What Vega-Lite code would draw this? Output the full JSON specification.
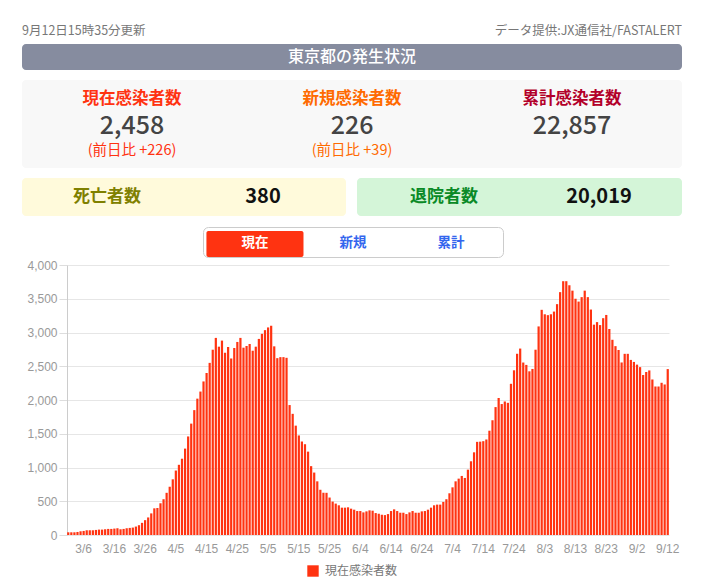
{
"$schema": "https://vega.github.io/schema/vega-lite/v6.json",
"background": "white",
"padding": {"top": 24, "left": 22, "right": 0, "bottom": 0},
"config": {"view": {"stroke": null}, "font": "Noto Sans CJK JP"},
"spacing": 10,
"resolve": {"scale": {"color": "independent"}, "legend": {"color": "independent"}},
"vconcat": [
{"spacing": 6, "vconcat": [
 {"width": 660, "height": 14,
  "data": {"values": [{"t": "9月12日15時35分更新", "side": "更新"}, {"t": "データ提供:JX通信社/FASTALERT", "side": "提供"}]},
  "encoding": {"x": {"field": "side", "type": "nominal", "sort": null, "scale": {"type": "point", "domain": ["更新", "提供"], "range": [0, 660], "padding": 0}, "axis": null}, "text": {"field": "t"}},
  "layer": [
   {"transform": [{"filter": "datum.side === '更新'"}], "mark": {"type": "text", "fontSize": 12.5, "color": "#777", "baseline": "middle", "align": "left"}},
   {"transform": [{"filter": "datum.side === '提供'"}], "mark": {"type": "text", "fontSize": 12.5, "color": "#777", "baseline": "middle", "align": "right"}}
  ]},
 {"width": 660, "height": 26,
  "view": {"fill": "#868c9f", "cornerRadius": 4, "stroke": null},
  "data": {"values": [{"t": "東京都の発生状況"}]},
  "mark": {"type": "text", "fontSize": 16, "fontWeight": 500, "color": "white", "baseline": "middle"},
  "encoding": {"text": {"field": "t"}}}
]},
{"width": 660, "height": 88,
 "view": {"fill": "#f8f8f8", "cornerRadius": 4, "stroke": null},
 "data": {"values": [
  {"k": "現在感染者数", "n": "2,458", "s": "(前日比 +226)"},
  {"k": "新規感染者数", "n": "226", "s": "(前日比 +39)"},
  {"k": "累計感染者数", "n": "22,857", "s": ""}]},
 "encoding": {
  "x": {"field": "k", "type": "nominal", "sort": null, "scale": {"type": "point", "padding": 0.5}, "axis": null},
  "color": {"field": "k", "type": "nominal", "sort": null, "scale": {"domain": ["現在感染者数", "新規感染者数", "累計感染者数"], "range": ["#ff3311", "#ff6a00", "#b3002a"]}, "legend": null}},
 "layer": [
  {"mark": {"type": "text", "fontSize": 16.5, "fontWeight": "bold", "baseline": "middle", "dy": -25.5}, "encoding": {"text": {"field": "k"}}},
  {"mark": {"type": "text", "fontSize": 25, "fontWeight": 500, "baseline": "middle", "dy": 2}, "encoding": {"text": {"field": "n"}, "color": {"value": "#444444"}}},
  {"mark": {"type": "text", "fontSize": 14.5, "baseline": "middle", "dy": 26.5}, "encoding": {"text": {"field": "s"}}}
 ]},
{"spacing": 11, "hconcat": [
 {"width": 324, "height": 38,
  "view": {"fill": "#fffadb", "cornerRadius": 4, "stroke": null},
  "data": {"values": [{"part": "項目", "t": "死亡者数"}, {"part": "人数", "t": "380"}]},
  "encoding": {"x": {"field": "part", "type": "nominal", "sort": null, "scale": {"type": "point", "domain": ["項目", "人数"], "range": [85, 241], "padding": 0}, "axis": null}, "text": {"field": "t"}},
  "layer": [
   {"transform": [{"filter": "datum.part === '項目'"}], "mark": {"type": "text", "fontSize": 17, "fontWeight": "bold", "color": "#7f8000", "baseline": "middle"}},
   {"transform": [{"filter": "datum.part === '人数'"}], "mark": {"type": "text", "fontSize": 20, "fontWeight": "bold", "color": "#111111", "baseline": "middle"}}
  ]},
 {"width": 325, "height": 38,
  "view": {"fill": "#d4f5d8", "cornerRadius": 4, "stroke": null},
  "data": {"values": [{"part": "項目", "t": "退院者数"}, {"part": "人数", "t": "20,019"}]},
  "encoding": {"x": {"field": "part", "type": "nominal", "sort": null, "scale": {"type": "point", "domain": ["項目", "人数"], "range": [87, 242], "padding": 0}, "axis": null}, "text": {"field": "t"}},
  "layer": [
   {"transform": [{"filter": "datum.part === '項目'"}], "mark": {"type": "text", "fontSize": 17, "fontWeight": "bold", "color": "#0a8a26", "baseline": "middle"}},
   {"transform": [{"filter": "datum.part === '人数'"}], "mark": {"type": "text", "fontSize": 20, "fontWeight": "bold", "color": "#111111", "baseline": "middle"}}
  ]}
]},
{"spacing": 1, "resolve": {"scale": {"color": "independent"}, "legend": {"color": "independent"}}, "vconcat": [
 {"spacing": 0, "hconcat": [
  {"width": 180, "height": 30, "data": {"values": []}, "mark": {"type": "text"}},
  {"width": 300, "height": 30,
   "view": {"fill": "white", "cornerRadius": 5, "stroke": "#cccccc", "strokeWidth": 1},
   "data": {"values": [{"t": "現在", "on": true}, {"t": "新規", "on": false}, {"t": "累計", "on": false}]},
   "encoding": {"x": {"field": "t", "type": "nominal", "sort": null, "scale": {"paddingInner": 0.01, "paddingOuter": 0.035}, "axis": null}},
   "layer": [
    {"transform": [{"filter": "datum.on"}], "mark": {"type": "bar", "color": "#ff3311", "cornerRadius": 2, "yOffset": 4, "y2Offset": -3}, "encoding": {}},
    {"mark": {"type": "text", "fontSize": 13.5, "fontWeight": "bold", "baseline": "middle", "dy": 0.5},
     "encoding": {"text": {"field": "t"}, "color": {"condition": {"test": "datum.on", "value": "white"}, "value": "#3366ee"}}}
   ]}
 ]},
 {"spacing": 0, "resolve": {"scale": {"color": "independent"}, "legend": {"color": "independent"}}, "hconcat": [
  {"width": 1, "height": 270, "data": {"values": []}, "mark": {"type": "text"}},
  {"width": 602, "height": 270,
  "data": {"values": [
{"d":"3/1","現在感染者数":40},{"d":"3/2","現在感染者数":40},{"d":"3/3","現在感染者数":40},{"d":"3/4","現在感染者数":45},{"d":"3/5","現在感染者数":55},{"d":"3/6","現在感染者数":60},{"d":"3/7","現在感染者数":70},{"d":"3/8","現在感染者数":70},{"d":"3/9","現在感染者数":70},{"d":"3/10","現在感染者数":75},{"d":"3/11","現在感染者数":80},{"d":"3/12","現在感染者数":80},{"d":"3/13","現在感染者数":85},{"d":"3/14","現在感染者数":90},{"d":"3/15","現在感染者数":90},{"d":"3/16","現在感染者数":95},{"d":"3/17","現在感染者数":100},{"d":"3/18","現在感染者数":85},{"d":"3/19","現在感染者数":90},{"d":"3/20","現在感染者数":100},{"d":"3/21","現在感染者数":105},{"d":"3/22","現在感染者数":110},{"d":"3/23","現在感染者数":125},{"d":"3/24","現在感染者数":145},{"d":"3/25","現在感染者数":180},{"d":"3/26","現在感染者数":220},{"d":"3/27","現在感染者数":260},{"d":"3/28","現在感染者数":320},{"d":"3/29","現在感染者数":395},{"d":"3/30","現在感染者数":400},{"d":"3/31","現在感染者数":470},
{"d":"4/1","現在感染者数":530},{"d":"4/2","現在感染者数":625},{"d":"4/3","現在感染者数":715},{"d":"4/4","現在感染者数":825},{"d":"4/5","現在感染者数":955},{"d":"4/6","現在感染者数":1040},{"d":"4/7","現在感染者数":1130},{"d":"4/8","現在感染者数":1280},{"d":"4/9","現在感染者数":1460},{"d":"4/10","現在感染者数":1650},{"d":"4/11","現在感染者数":1850},{"d":"4/12","現在感染者数":2020},{"d":"4/13","現在感染者数":2125},{"d":"4/14","現在感染者数":2275},{"d":"4/15","現在感染者数":2400},{"d":"4/16","現在感染者数":2550},{"d":"4/17","現在感染者数":2745},{"d":"4/18","現在感染者数":2920},{"d":"4/19","現在感染者数":2790},{"d":"4/20","現在感染者数":2880},{"d":"4/21","現在感染者数":2700},{"d":"4/22","現在感染者数":2785},{"d":"4/23","現在感染者数":2615},{"d":"4/24","現在感染者数":2770},{"d":"4/25","現在感染者数":2860},{"d":"4/26","現在感染者数":2920},{"d":"4/27","現在感染者数":2775},{"d":"4/28","現在感染者数":2800},{"d":"4/29","現在感染者数":2830},{"d":"4/30","現在感染者数":2730},
{"d":"5/1","現在感染者数":2790},{"d":"5/2","現在感染者数":2905},{"d":"5/3","現在感染者数":2980},{"d":"5/4","現在感染者数":3035},{"d":"5/5","現在感染者数":3075},{"d":"5/6","現在感染者数":3100},{"d":"5/7","現在感染者数":2795},{"d":"5/8","現在感染者数":2620},{"d":"5/9","現在感染者数":2635},{"d":"5/10","現在感染者数":2635},{"d":"5/11","現在感染者数":2625},{"d":"5/12","現在感染者数":1925},{"d":"5/13","現在感染者数":1795},{"d":"5/14","現在感染者数":1620},{"d":"5/15","現在感染者数":1475},{"d":"5/16","現在感染者数":1385},{"d":"5/17","現在感染者数":1345},{"d":"5/18","現在感染者数":1235},{"d":"5/19","現在感染者数":1020},{"d":"5/20","現在感染者数":925},{"d":"5/21","現在感染者数":795},{"d":"5/22","現在感染者数":670},{"d":"5/23","現在感染者数":625},{"d":"5/24","現在感染者数":625},{"d":"5/25","現在感染者数":555},{"d":"5/26","現在感染者数":495},{"d":"5/27","現在感染者数":465},{"d":"5/28","現在感染者数":440},{"d":"5/29","現在感染者数":405},{"d":"5/30","現在感染者数":405},{"d":"5/31","現在感染者数":410},
{"d":"6/1","現在感染者数":390},{"d":"6/2","現在感染者数":375},{"d":"6/3","現在感染者数":355},{"d":"6/4","現在感染者数":355},{"d":"6/5","現在感染者数":335},{"d":"6/6","現在感染者数":350},{"d":"6/7","現在感染者数":365},{"d":"6/8","現在感染者数":360},{"d":"6/9","現在感染者数":325},{"d":"6/10","現在感染者数":315},{"d":"6/11","現在感染者数":300},{"d":"6/12","現在感染者数":295},{"d":"6/13","現在感染者数":310},{"d":"6/14","現在感染者数":355},{"d":"6/15","現在感染者数":380},{"d":"6/16","現在感染者数":355},{"d":"6/17","現在感染者数":330},{"d":"6/18","現在感染者数":330},{"d":"6/19","現在感染者数":310},{"d":"6/20","現在感染者数":335},{"d":"6/21","現在感染者数":355},{"d":"6/22","現在感染者数":330},{"d":"6/23","現在感染者数":330},{"d":"6/24","現在感染者数":350},{"d":"6/25","現在感染者数":355},{"d":"6/26","現在感染者数":375},{"d":"6/27","現在感染者数":405},{"d":"6/28","現在感染者数":440},{"d":"6/29","現在感染者数":450},{"d":"6/30","現在感染者数":450},
{"d":"7/1","現在感染者数":490},{"d":"7/2","現在感染者数":530},{"d":"7/3","現在感染者数":618},{"d":"7/4","現在感染者数":706},{"d":"7/5","現在感染者数":795},{"d":"7/6","現在感染者数":835},{"d":"7/7","現在感染者数":875},{"d":"7/8","現在感染者数":845},{"d":"7/9","現在感染者数":968},{"d":"7/10","現在感染者数":1092},{"d":"7/11","現在感染者数":1225},{"d":"7/12","現在感染者数":1380},{"d":"7/13","現在感染者数":1383},{"d":"7/14","現在感染者数":1390},{"d":"7/15","現在感染者数":1415},{"d":"7/16","現在感染者数":1545},{"d":"7/17","現在感染者数":1700},{"d":"7/18","現在感染者数":1895},{"d":"7/19","現在感染者数":2030},{"d":"7/20","現在感染者数":1940},{"d":"7/21","現在感染者数":1978},{"d":"7/22","現在感染者数":1958},{"d":"7/23","現在感染者数":2240},{"d":"7/24","現在感染者数":2440},{"d":"7/25","現在感染者数":2685},{"d":"7/26","現在感染者数":2762},{"d":"7/27","現在感染者数":2555},{"d":"7/28","現在感染者数":2520},{"d":"7/29","現在感染者数":2425},{"d":"7/30","現在感染者数":2460},{"d":"7/31","現在感染者数":2745},
{"d":"8/1","現在感染者数":3090},{"d":"8/2","現在感染者数":3336},{"d":"8/3","現在感染者数":3270},{"d":"8/4","現在感染者数":3257},{"d":"8/5","現在感染者数":3270},{"d":"8/6","現在感染者数":3310},{"d":"8/7","現在感染者数":3420},{"d":"8/8","現在感染者数":3598},{"d":"8/9","現在感染者数":3760},{"d":"8/10","現在感染者数":3760},{"d":"8/11","現在感染者数":3700},{"d":"8/12","現在感染者数":3620},{"d":"8/13","現在感染者数":3500},{"d":"8/14","現在感染者数":3458},{"d":"8/15","現在感染者数":3524},{"d":"8/16","現在感染者数":3620},{"d":"8/17","現在感染者数":3524},{"d":"8/18","現在感染者数":3340},{"d":"8/19","現在感染者数":3116},{"d":"8/20","現在感染者数":3154},{"d":"8/21","現在感染者数":3110},{"d":"8/22","現在感染者数":3212},{"d":"8/23","現在感染者数":3260},{"d":"8/24","現在感染者数":3052},{"d":"8/25","現在感染者数":2892},{"d":"8/26","現在感染者数":2798},{"d":"8/27","現在感染者数":2741},{"d":"8/28","現在感染者数":2556},{"d":"8/29","現在感染者数":2684},{"d":"8/30","現在感染者数":2684},{"d":"8/31","現在感染者数":2594},
{"d":"9/1","現在感染者数":2564},{"d":"9/2","現在感染者数":2524},{"d":"9/3","現在感染者数":2487},{"d":"9/4","現在感染者数":2370},{"d":"9/5","現在感染者数":2415},{"d":"9/6","現在感染者数":2438},{"d":"9/7","現在感染者数":2304},{"d":"9/8","現在感染者数":2200},{"d":"9/9","現在感染者数":2200},{"d":"9/10","現在感染者数":2255},{"d":"9/11","現在感染者数":2230},{"d":"9/12","現在感染者数":2458}
  ]},
  "transform": [{"fold": ["現在感染者数"], "as": ["series", "value"]}],
  "mark": {"type": "bar"},
  "encoding": {
   "x": {"field": "d", "type": "ordinal", "sort": null, "scale": {"paddingInner": 0.28, "paddingOuter": 0.05},
    "axis": {"title": null, "values": ["3/6","3/16","3/26","4/5","4/15","4/25","5/5","5/15","5/25","6/4","6/14","6/24","7/4","7/14","7/24","8/3","8/13","8/23","9/2","9/12"],
     "labelAngle": 0, "ticks": false, "domain": false, "labelColor": "#999999", "labelFontSize": 12, "labelFont": "Liberation Sans", "labelPadding": 8}},
   "y": {"field": "value", "type": "quantitative", "scale": {"domain": [0, 4000]},
    "axis": {"title": null, "values": [0,500,1000,1500,2000,2500,3000,3500,4000], "format": ",.0f", "labelColor": "#999999", "labelFontSize": 12, "labelFont": "Liberation Sans",
     "tickColor": "#dddddd", "tickSize": 8, "labelPadding": 2, "domainColor": "#cccccc", "gridColor": "#e6e6e6", "minExtent": 44}},
   "color": {"field": "series", "type": "nominal", "scale": {"domain": ["現在感染者数"], "range": ["#ff3311"]},
    "legend": {"title": null, "orient": "none", "legendX": 240, "legendY": 300, "direction": "horizontal", "symbolType": "square", "symbolSize": 130, "symbolStrokeWidth": 0, "labelFontSize": 12, "labelColor": "#777777", "labelOffset": 6}}
  }}
 ]}
]}
]
}
